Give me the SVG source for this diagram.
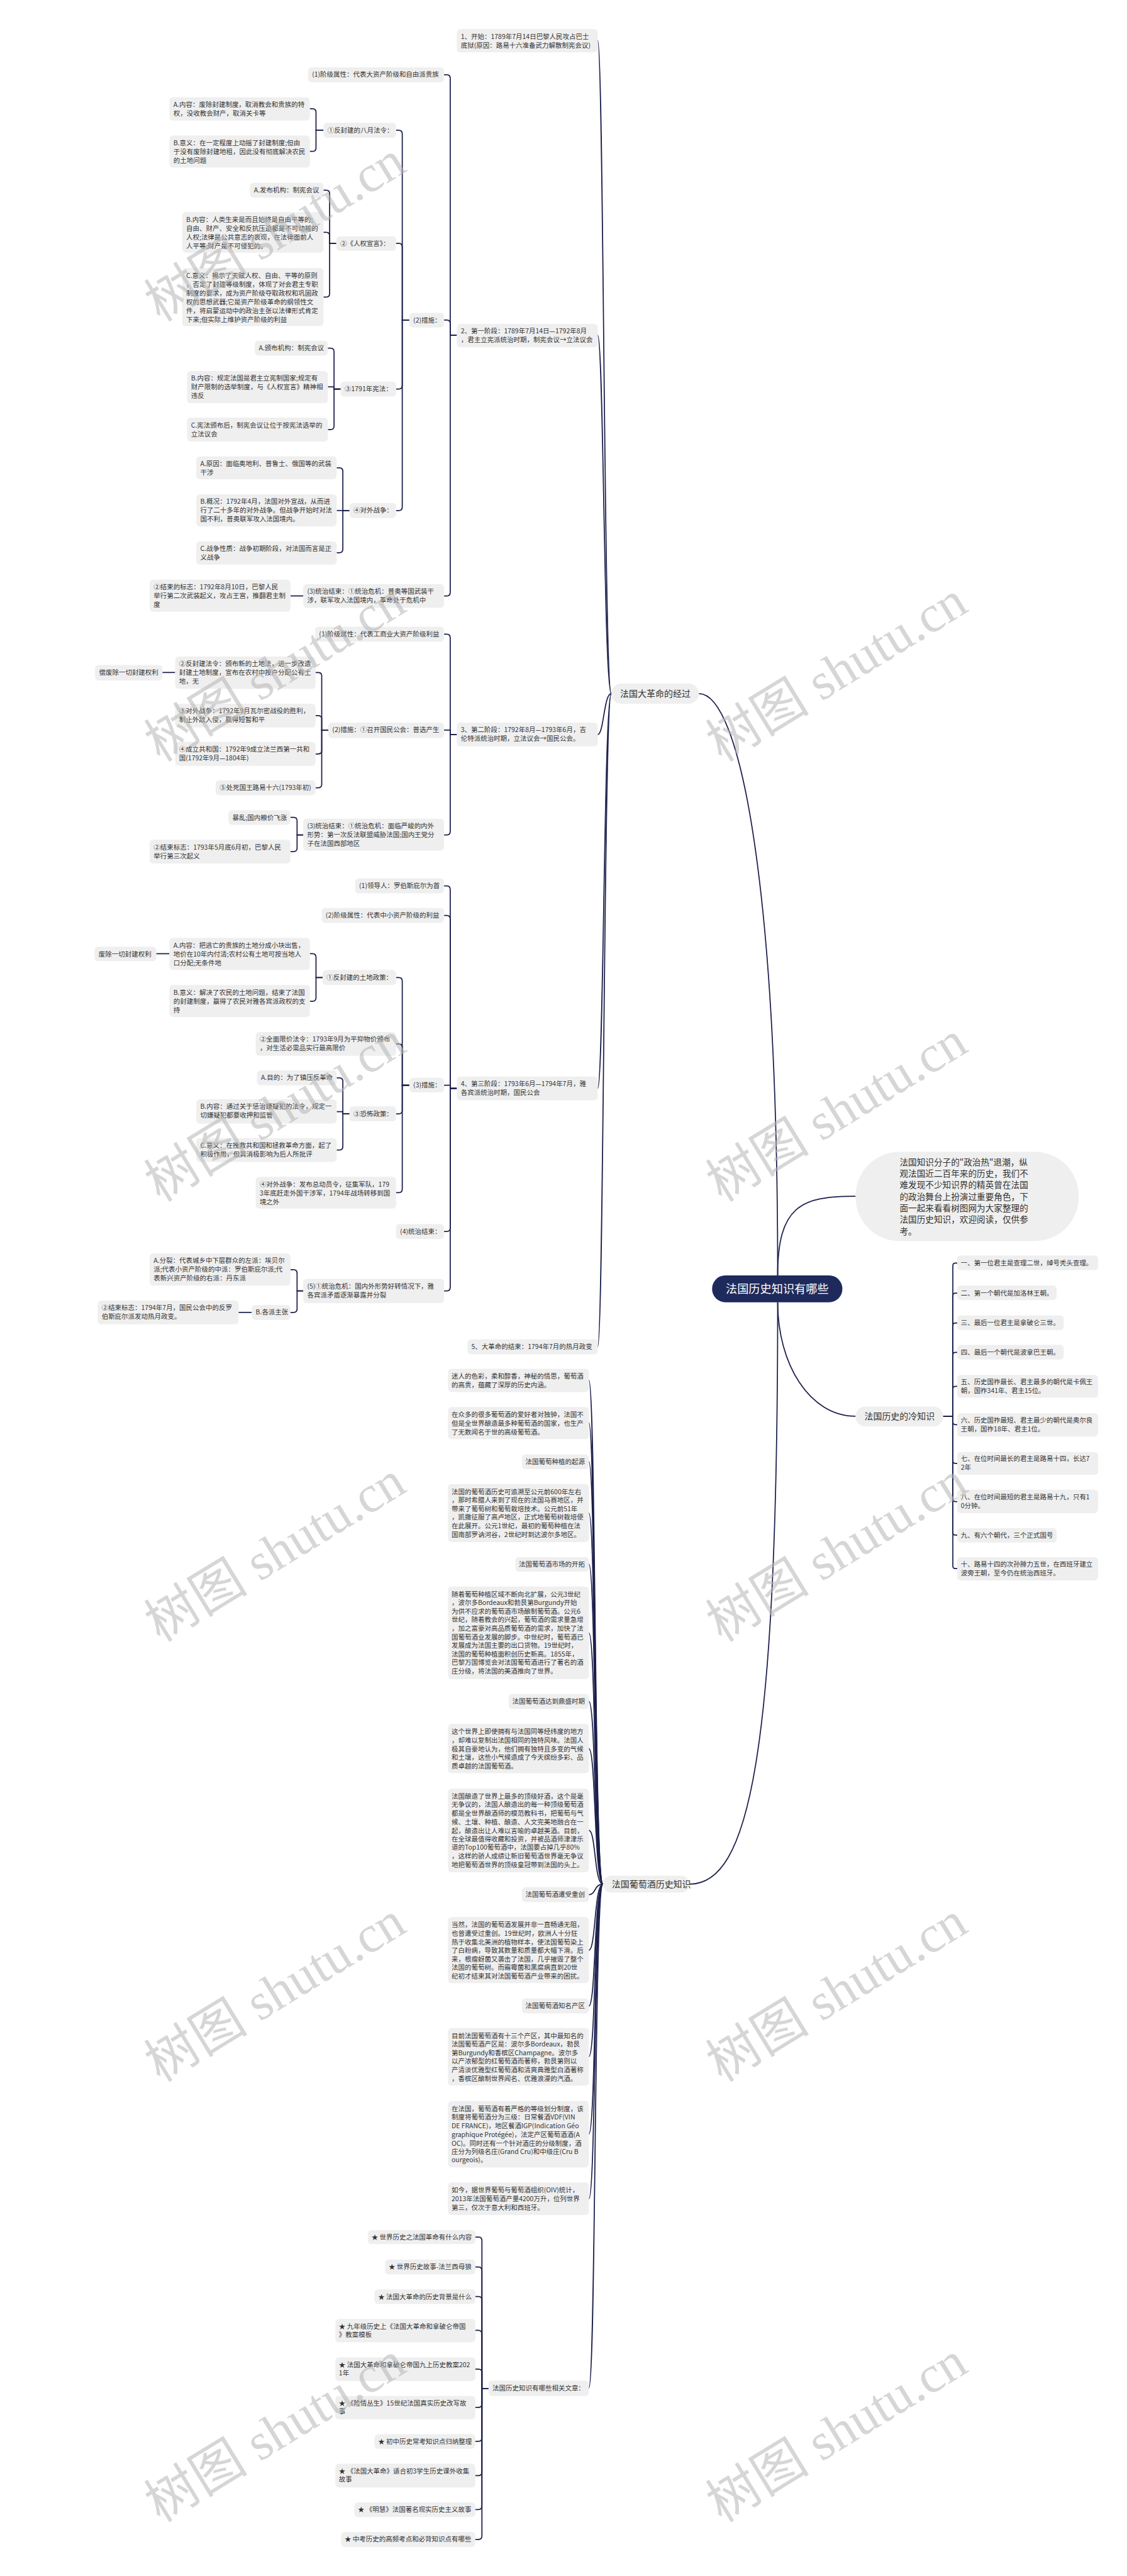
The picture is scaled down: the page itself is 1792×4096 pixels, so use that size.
<svg xmlns="http://www.w3.org/2000/svg" width="1792" height="4096" viewBox="0 0 1792 4096">
<style>
.n{fill:#efefef}
.t{font-family:"Noto Sans CJK SC","Noto Sans",sans-serif;font-size:15px;fill:#333}
.L{font-family:"Noto Sans CJK SC","Noto Sans",sans-serif;font-size:20px;fill:#333}
.c{fill:none;stroke:#1c1f4a;stroke-width:2.5}
.w{font-family:"Liberation Serif","Noto Sans CJK SC",serif;font-size:118px;fill:#b5b5b5;opacity:.55}
</style>
<rect width="1792" height="4096" fill="#fff"/>
<g transform="scale(0.6998)">
<g id="connectors">
<path class="c" d="M1767 2898 C1767 2000 1680 1576 1588 1576"/>
<path class="c" d="M1767 2898 C1767 2740 1820 2718 1944 2718"/>
<path class="c" d="M1767 2959 C1767 3100 1840 3218 1944 3218"/>
<path class="c" d="M1767 2959 C1767 4000 1700 4281 1567 4281"/>
<path class="c" d="M1389 1576 C1372 1576 1372 92 1358 92"/>
<path class="c" d="M1389 1576 C1372 1576 1372 762 1358 762"/>
<path class="c" d="M1389 1576 C1372 1576 1372 1669 1358 1669"/>
<path class="c" d="M1389 1576 C1372 1576 1372 2473 1358 2473"/>
<path class="c" d="M1389 1576 C1372 1576 1372 3060 1358 3060"/>
<path class="c" d="M1038 762 H1023 V178 Q1023 170 1015 170 H1009"/>
<path class="c" d="M1038 762 H1023 V735 Q1023 727 1015 727 H1009"/>
<path class="c" d="M1038 762 H1023 V1346 Q1023 1354 1015 1354 H1009"/>
<path class="c" d="M930 727 H914 V304 Q914 296 906 296 H900"/>
<path class="c" d="M930 727 H914 V561 Q914 553 906 553 H900"/>
<path class="c" d="M930 727 H914 V876 Q914 884 906 884 H900"/>
<path class="c" d="M930 727 H914 V1152 Q914 1160 906 1160 H900"/>
<path class="c" d="M735 296 H718 V255 Q718 247 710 247 H704"/>
<path class="c" d="M735 296 H718 V336 Q718 344 710 344 H704"/>
<path class="c" d="M764 553 H749 V440 Q749 432 741 432 H735"/>
<path class="c" d="M764 553 H749 V536 Q749 528 741 528 H735"/>
<path class="c" d="M764 553 H749 V667 Q749 675 741 675 H735"/>
<path class="c" d="M774 884 H759 V799 Q759 791 751 791 H745"/>
<path class="c" d="M774 884 H759 V879 H745"/>
<path class="c" d="M774 884 H759 V968 Q759 976 751 976 H745"/>
<path class="c" d="M794 1160 H779 V1071 Q779 1063 771 1063 H765"/>
<path class="c" d="M794 1160 H765"/>
<path class="c" d="M794 1160 H779 V1248 Q779 1256 771 1256 H765"/>
<path class="c" d="M689 1354 H660"/>
<path class="c" d="M1038 1669 H1023 V1449 Q1023 1441 1015 1441 H1009"/>
<path class="c" d="M1038 1669 H1023 V1659 H1009"/>
<path class="c" d="M1038 1669 H1023 V1889 Q1023 1897 1015 1897 H1009"/>
<path class="c" d="M746 1659 H731 V1536 Q731 1528 723 1528 H717"/>
<path class="c" d="M746 1659 H731 V1634 Q731 1626 723 1626 H717"/>
<path class="c" d="M746 1659 H731 V1705 Q731 1713 723 1713 H717"/>
<path class="c" d="M746 1659 H731 V1782 Q731 1790 723 1790 H717"/>
<path class="c" d="M398 1528 H369"/>
<path class="c" d="M689 1897 H675 V1865 Q675 1857 667 1857 H660"/>
<path class="c" d="M689 1897 H675 V1927 Q675 1935 667 1935 H660"/>
<path class="c" d="M1038 2473 H1023 V2021 Q1023 2013 1015 2013 H1009"/>
<path class="c" d="M1038 2473 H1023 V2088 Q1023 2080 1015 2080 H1009"/>
<path class="c" d="M1038 2473 H1023 V2466 H1009"/>
<path class="c" d="M1038 2473 H1023 V2790 Q1023 2798 1015 2798 H1009"/>
<path class="c" d="M1038 2473 H1023 V2925 Q1023 2933 1015 2933 H1009"/>
<path class="c" d="M930 2466 H914 V2229 Q914 2221 906 2221 H900"/>
<path class="c" d="M930 2466 H914 V2380 Q914 2372 906 2372 H900"/>
<path class="c" d="M930 2466 H914 V2523 Q914 2531 906 2531 H900"/>
<path class="c" d="M930 2466 H914 V2702 Q914 2710 906 2710 H900"/>
<path class="c" d="M733 2221 H718 V2175 Q718 2167 710 2167 H704"/>
<path class="c" d="M733 2221 H718 V2267 Q718 2275 710 2275 H704"/>
<path class="c" d="M385 2167 H355"/>
<path class="c" d="M794 2531 H779 V2457 Q779 2449 771 2449 H765"/>
<path class="c" d="M794 2531 H779 V2526 H765"/>
<path class="c" d="M794 2531 H779 V2605 Q779 2613 771 2613 H765"/>
<path class="c" d="M689 2933 H675 V2893 Q675 2885 667 2885 H660"/>
<path class="c" d="M689 2933 H675 V2974 Q675 2982 667 2982 H660"/>
<path class="c" d="M572 2982 H542"/>
<path class="c" d="M2143 3218 H2165 V2876 Q2165 2870 2171 2870 H2175"/>
<path class="c" d="M2143 3218 H2165 V2944 Q2165 2938 2171 2938 H2175"/>
<path class="c" d="M2143 3218 H2165 V3012 Q2165 3006 2171 3006 H2175"/>
<path class="c" d="M2143 3218 H2165 V3079 Q2165 3073 2171 3073 H2175"/>
<path class="c" d="M2143 3218 H2165 V3156 Q2165 3150 2171 3150 H2175"/>
<path class="c" d="M2143 3218 H2165 V3231 Q2165 3237 2171 3237 H2175"/>
<path class="c" d="M2143 3218 H2165 V3319 Q2165 3325 2171 3325 H2175"/>
<path class="c" d="M2143 3218 H2165 V3406 Q2165 3412 2171 3412 H2175"/>
<path class="c" d="M2143 3218 H2165 V3482 Q2165 3488 2171 3488 H2175"/>
<path class="c" d="M2143 3218 H2165 V3558 Q2165 3564 2171 3564 H2175"/>
<path class="c" d="M1370 4281 C1350 4281 1354 3136 1338 3136"/>
<path class="c" d="M1370 4281 C1350 4281 1354 3233 1338 3233"/>
<path class="c" d="M1370 4281 C1350 4281 1354 3321 1338 3321"/>
<path class="c" d="M1370 4281 C1350 4281 1354 3438 1338 3438"/>
<path class="c" d="M1370 4281 C1350 4281 1354 3554 1338 3554"/>
<path class="c" d="M1370 4281 C1350 4281 1354 3710 1338 3710"/>
<path class="c" d="M1370 4281 C1350 4281 1354 3866 1338 3866"/>
<path class="c" d="M1370 4281 C1350 4281 1354 3973 1338 3973"/>
<path class="c" d="M1370 4281 C1350 4281 1354 4159 1338 4159"/>
<path class="c" d="M1370 4281 C1350 4281 1354 4305 1338 4305"/>
<path class="c" d="M1370 4281 C1350 4281 1354 4431 1338 4431"/>
<path class="c" d="M1370 4281 C1350 4281 1354 4558 1338 4558"/>
<path class="c" d="M1370 4281 C1350 4281 1354 4673 1338 4673"/>
<path class="c" d="M1370 4281 C1350 4281 1354 4849 1338 4849"/>
<path class="c" d="M1370 4281 C1350 4281 1354 4996 1338 4996"/>
<path class="c" d="M1370 4281 C1350 4281 1354 5426 1338 5426"/>
<path class="c" d="M1110 5427 H1095 V5091 Q1095 5083 1087 5083 H1080"/>
<path class="c" d="M1110 5427 H1095 V5159 Q1095 5151 1087 5151 H1080"/>
<path class="c" d="M1110 5427 H1095 V5226 Q1095 5218 1087 5218 H1080"/>
<path class="c" d="M1110 5427 H1095 V5303 Q1095 5295 1087 5295 H1080"/>
<path class="c" d="M1110 5427 H1095 V5391 Q1095 5383 1087 5383 H1080"/>
<path class="c" d="M1110 5427 H1095 V5462 Q1095 5470 1087 5470 H1080"/>
<path class="c" d="M1110 5427 H1095 V5539 Q1095 5547 1087 5547 H1080"/>
<path class="c" d="M1110 5427 H1095 V5617 Q1095 5625 1087 5625 H1080"/>
<path class="c" d="M1110 5427 H1095 V5694 Q1095 5702 1087 5702 H1080"/>
<path class="c" d="M1110 5427 H1095 V5762 Q1095 5770 1087 5770 H1080"/>
</g>

<g id="root"><rect x="1618" y="2898" width="296" height="61" rx="30" fill="#1f2a5c"/><text x="1766" y="2938" text-anchor="middle" font-family="Noto Sans CJK SC, sans-serif" font-size="26" fill="#fff">法国历史知识有哪些</text></g>
<g id="intro"><rect class="n" x="1944" y="2617" width="507" height="203" rx="100"/><text class="t" style="font-size:19.5px"><tspan x="2044" y="2648">法国知识分子的"政治热"退潮，纵</tspan><tspan x="2044" y="2674">观法国近二百年来的历史，我们不</tspan><tspan x="2044" y="2700">难发现不少知识界的精英曾在法国</tspan><tspan x="2044" y="2726">的政治舞台上扮演过重要角色，下</tspan><tspan x="2044" y="2752">面一起来看看树图网为大家整理的</tspan><tspan x="2044" y="2778">法国历史知识，欢迎阅读，仅供参</tspan><tspan x="2044" y="2805">考。</tspan></text></g>

<g id="rev"><rect class="n" x="1389" y="1553" width="199" height="46" rx="23"/><text class="L" x="1409" y="1583">法国大革命的经过</text></g>
<g id="s1"><rect class="n" x="1038" y="66" width="320" height="53" rx="8"/><text class="t"><tspan x="1047" y="88">1、开始：1789年7月14日巴黎人民攻占巴士</tspan><tspan x="1047" y="108">底狱(原因：路易十六准备武力解散制宪会议)</tspan></text></g>
<g id="s2"><rect class="n" x="1038" y="736" width="320" height="53" rx="8"/><text class="t"><tspan x="1047" y="758">2、第一阶段：1789年7月14日—1792年8月</tspan><tspan x="1047" y="778">，君主立宪派统治时期，制宪会议→立法议会</tspan></text></g>
<g id="s3"><rect class="n" x="1038" y="1642" width="320" height="54" rx="8"/><text class="t"><tspan x="1047" y="1664">3、第二阶段：1792年8月—1793年6月，吉</tspan><tspan x="1047" y="1684">伦特派统治时期，立法议会→国民公会。</tspan></text></g>
<g id="s4"><rect class="n" x="1038" y="2446" width="320" height="54" rx="8"/><text class="t"><tspan x="1047" y="2468">4、第三阶段：1793年6月—1794年7月，雅</tspan><tspan x="1047" y="2488">各宾派统治时期，国民公会</tspan></text></g>
<g id="s5"><rect class="n" x="1062" y="3043" width="296" height="34" rx="8"/><text class="t" x="1071" y="3065">5、大革命的结束：1794年7月的热月政变</text></g>

<g id="a1"><rect class="n" x="700" y="153" width="309" height="34" rx="8"/><text class="t" x="709" y="175">(1)阶级属性：代表大资产阶级和自由派贵族</text></g>
<g id="a2"><rect class="n" x="930" y="711" width="79" height="33" rx="8"/><text class="t" x="939" y="733">(2)措施：</text></g>
<g id="a3"><rect class="n" x="689" y="1327" width="320" height="54" rx="8"/><text class="t"><tspan x="698" y="1349">(3)统治结束：①统治危机：普奥等国武装干</tspan><tspan x="698" y="1369">涉，联军攻入法国境内，革命处于危机中</tspan></text></g>
<g id="b1"><rect class="n" x="735" y="279" width="165" height="34" rx="8"/><text class="t" x="744" y="301">①反封建的八月法令：</text></g>
<g id="b2"><rect class="n" x="764" y="537" width="136" height="33" rx="8"/><text class="t" x="773" y="559">②《人权宣言》：</text></g>
<g id="b3"><rect class="n" x="774" y="867" width="126" height="34" rx="8"/><text class="t" x="783" y="889">③1791年宪法：</text></g>
<g id="b4"><rect class="n" x="794" y="1143" width="106" height="34" rx="8"/><text class="t" x="803" y="1165">④对外战争：</text></g>
<g id="b1a"><rect class="n" x="385" y="221" width="319" height="53" rx="8"/><text class="t"><tspan x="394" y="243">A.内容：废除封建制度，取消教会和贵族的特</tspan><tspan x="394" y="263">权，没收教会财产，取消关卡等</tspan></text></g>
<g id="b1b"><rect class="n" x="385" y="308" width="319" height="73" rx="8"/><text class="t"><tspan x="394" y="330">B.意义：在一定程度上动摇了封建制度;但由</tspan><tspan x="394" y="350">于没有废除封建地租，因此没有彻底解决农民</tspan><tspan x="394" y="370">的土地问题</tspan></text></g>
<g id="b2a"><rect class="n" x="568" y="415" width="167" height="34" rx="8"/><text class="t" x="577" y="437">A.发布机构：制宪会议</text></g>
<g id="b2b"><rect class="n" x="414" y="482" width="321" height="92" rx="8"/><text class="t"><tspan x="423" y="504">B.内容：人类生来是而且始终是自由平等的;</tspan><tspan x="423" y="524">自由、财产、安全和反抗压迫都是不可动摇的</tspan><tspan x="423" y="544">人权;法律是公共意志的表现，在法律面前人</tspan><tspan x="423" y="564">人平等;财产是不可侵犯的。</tspan></text></g>
<g id="b2c"><rect class="n" x="414" y="609" width="321" height="132" rx="8"/><text class="t"><tspan x="423" y="631">C.意义：揭示了天赋人权、自由、平等的原则</tspan><tspan x="423" y="651">，否定了封建等级制度，体现了对会君主专职</tspan><tspan x="423" y="671">制度的要求，成为资产阶级夺取政权和巩固政</tspan><tspan x="423" y="691">权的思想武器;它是资产阶级革命的纲领性文</tspan><tspan x="423" y="711">件，将启蒙运动中的政治主张以法律形式肯定</tspan><tspan x="423" y="731">下来;但实际上维护资产阶级的利益</tspan></text></g>
<g id="b3a"><rect class="n" x="579" y="774" width="166" height="34" rx="8"/><text class="t" x="588" y="796">A.颁布机构：制宪会议</text></g>
<g id="b3b"><rect class="n" x="425" y="843" width="320" height="73" rx="8"/><text class="t"><tspan x="434" y="865">B.内容：规定法国是君主立宪制国家;规定有</tspan><tspan x="434" y="885">财产限制的选举制度，与《人权宣言》精神相</tspan><tspan x="434" y="905">违反</tspan></text></g>
<g id="b3c"><rect class="n" x="425" y="949" width="320" height="54" rx="8"/><text class="t"><tspan x="434" y="971">C.宪法颁布后，制宪会议让位于按宪法选举的</tspan><tspan x="434" y="991">立法议会</tspan></text></g>
<g id="b4a"><rect class="n" x="446" y="1037" width="319" height="52" rx="8"/><text class="t"><tspan x="455" y="1059">A.原因：面临奥地利、普鲁士、俄国等的武装</tspan><tspan x="455" y="1079">干涉</tspan></text></g>
<g id="b4b"><rect class="n" x="446" y="1123" width="319" height="73" rx="8"/><text class="t"><tspan x="455" y="1145">B.概况：1792年4月，法国对外宣战，从而进</tspan><tspan x="455" y="1165">行了二十多年的对外战争。但战争开始时对法</tspan><tspan x="455" y="1185">国不利，普奥联军攻入法国境内。</tspan></text></g>
<g id="b4c"><rect class="n" x="446" y="1230" width="319" height="53" rx="8"/><text class="t"><tspan x="455" y="1252">C.战争性质：战争初期阶段，对法国而言是正</tspan><tspan x="455" y="1272">义战争</tspan></text></g>
<g id="a3a"><rect class="n" x="340" y="1317" width="320" height="73" rx="8"/><text class="t"><tspan x="349" y="1339">②结束的标志：1792年8月10日，巴黎人民</tspan><tspan x="349" y="1359">举行第二次武装起义，攻占王宫，推翻君主制</tspan><tspan x="349" y="1379">度</tspan></text></g>

<g id="c1"><rect class="n" x="716" y="1424" width="293" height="34" rx="8"/><text class="t" x="725" y="1446">(1)阶级属性：代表工商业大资产阶级利益</text></g>
<g id="c2"><rect class="n" x="746" y="1642" width="263" height="35" rx="8"/><text class="t" x="755" y="1664">(2)措施：①召开国民公会：普选产生</text></g>
<g id="c3"><rect class="n" x="689" y="1860" width="320" height="73" rx="8"/><text class="t"><tspan x="698" y="1882">(3)统治结束：①统治危机：面临严峻的内外</tspan><tspan x="698" y="1902">形势：第一次反法联盟威胁法国;国内王党分</tspan><tspan x="698" y="1922">子在法国西部地区</tspan></text></g>
<g id="c2a"><rect class="n" x="398" y="1492" width="319" height="73" rx="8"/><text class="t"><tspan x="407" y="1514">②反封建法令：颁布新的土地法，进一步改造</tspan><tspan x="407" y="1534">封建土地制度，宣布在农村中按户分配公有土</tspan><tspan x="407" y="1554">地，无</tspan></text></g>
<g id="c2a1"><rect class="n" x="216" y="1511" width="153" height="35" rx="8"/><text class="t" x="225" y="1533">偿废除一切封建权利</text></g>
<g id="c2b"><rect class="n" x="398" y="1599" width="319" height="54" rx="8"/><text class="t"><tspan x="407" y="1621">③对外战争：1792年9月瓦尔密战役的胜利，</tspan><tspan x="407" y="1641">制止外敌入侵，赢得短暂和平</tspan></text></g>
<g id="c2c"><rect class="n" x="398" y="1686" width="319" height="54" rx="8"/><text class="t"><tspan x="407" y="1708">④成立共和国：1792年9成立法兰西第一共和</tspan><tspan x="407" y="1728">国(1792年9月—1804年)</tspan></text></g>
<g id="c2d"><rect class="n" x="490" y="1773" width="227" height="34" rx="8"/><text class="t" x="499" y="1795">⑤处死国王路易十六(1793年初)</text></g>
<g id="c3a"><rect class="n" x="519" y="1841" width="141" height="33" rx="8"/><text class="t" x="528" y="1863">暴乱;国内粮价飞涨</text></g>
<g id="c3b"><rect class="n" x="340" y="1908" width="320" height="54" rx="8"/><text class="t"><tspan x="349" y="1930">②结束标志：1793年5月底6月初，巴黎人民</tspan><tspan x="349" y="1950">举行第三次起义</tspan></text></g>

<g id="d1"><rect class="n" x="807" y="1996" width="202" height="34" rx="8"/><text class="t" x="816" y="2018">(1)领导人：罗伯斯庇尔为首</text></g>
<g id="d2"><rect class="n" x="731" y="2063" width="278" height="34" rx="8"/><text class="t" x="740" y="2085">(2)阶级属性：代表中小资产阶级的利益</text></g>
<g id="d3"><rect class="n" x="930" y="2449" width="79" height="33" rx="8"/><text class="t" x="939" y="2471">(3)措施：</text></g>
<g id="d4"><rect class="n" x="900" y="2781" width="109" height="34" rx="8"/><text class="t" x="909" y="2803">(4)统治结束：</text></g>
<g id="d5"><rect class="n" x="689" y="2906" width="320" height="55" rx="8"/><text class="t"><tspan x="698" y="2928">(5)①统治危机：国内外形势好转情况下，雅</tspan><tspan x="698" y="2948">各宾派矛盾逐渐暴露并分裂</tspan></text></g>
<g id="d3a"><rect class="n" x="733" y="2204" width="167" height="34" rx="8"/><text class="t" x="742" y="2226">①反封建的土地政策：</text></g>
<g id="d3aA"><rect class="n" x="385" y="2131" width="319" height="73" rx="8"/><text class="t"><tspan x="394" y="2153">A.内容：把逃亡的贵族的土地分成小块出售，</tspan><tspan x="394" y="2173">地价在10年内付清;农村公有土地可按当地人</tspan><tspan x="394" y="2193">口分配;无条件地</tspan></text></g>
<g id="d3aA1"><rect class="n" x="215" y="2151" width="140" height="33" rx="8"/><text class="t" x="224" y="2173">废除一切封建权利</text></g>
<g id="d3aB"><rect class="n" x="385" y="2238" width="319" height="73" rx="8"/><text class="t"><tspan x="394" y="2260">B.意义：解决了农民的土地问题，结束了法国</tspan><tspan x="394" y="2280">的封建制度，赢得了农民对雅各宾派政权的支</tspan><tspan x="394" y="2300">持</tspan></text></g>
<g id="d3b"><rect class="n" x="581" y="2345" width="319" height="54" rx="8"/><text class="t"><tspan x="590" y="2367">②全面限价法令：1793年9月为平抑物价颁布</tspan><tspan x="590" y="2387">，对生活必需品实行最高限价</tspan></text></g>
<g id="d3c"><rect class="n" x="794" y="2514" width="106" height="34" rx="8"/><text class="t" x="803" y="2536">③恐怖政策：</text></g>
<g id="d3cA"><rect class="n" x="584" y="2432" width="181" height="34" rx="8"/><text class="t" x="593" y="2454">A.目的：为了镇压反革命</text></g>
<g id="d3cB"><rect class="n" x="446" y="2498" width="319" height="55" rx="8"/><text class="t"><tspan x="455" y="2520">B.内容：通过关于惩治嫌疑犯的法令，规定一</tspan><tspan x="455" y="2540">切嫌疑犯都要收押和监管</tspan></text></g>
<g id="d3cC"><rect class="n" x="446" y="2586" width="319" height="54" rx="8"/><text class="t"><tspan x="455" y="2608">C.意义：在挽救共和国和拯救革命方面，起了</tspan><tspan x="455" y="2628">积极作用，但其消极影响为后人所批评</tspan></text></g>
<g id="d3d"><rect class="n" x="581" y="2674" width="319" height="72" rx="8"/><text class="t"><tspan x="590" y="2696">④对外战争：发布总动员令，征集军队，179</tspan><tspan x="590" y="2716">3年底赶走外国干涉军，1794年战场转移到国</tspan><tspan x="590" y="2736">境之外</tspan></text></g>
<g id="d5a"><rect class="n" x="340" y="2848" width="320" height="73" rx="8"/><text class="t"><tspan x="349" y="2870">A.分裂：代表城乡中下层群众的左派：埃贝尔</tspan><tspan x="349" y="2890">派;代表小资产阶级的中派：罗伯斯庇尔派;代</tspan><tspan x="349" y="2910">表新兴资产阶级的右派：丹东派</tspan></text></g>
<g id="d5b"><rect class="n" x="572" y="2965" width="88" height="34" rx="8"/><text class="t" x="581" y="2987">B.各派主张</text></g>
<g id="d5b1"><rect class="n" x="222" y="2955" width="320" height="54" rx="8"/><text class="t"><tspan x="231" y="2977">②结束标志：1794年7月，国民公会中的反罗</tspan><tspan x="231" y="2997">伯斯庇尔派发动热月政变。</tspan></text></g>

<g id="cold"><rect class="n" x="1944" y="3196" width="199" height="45" rx="22"/><text class="L" x="1964" y="3225">法国历史的冷知识</text></g>
<g id="k1"><rect class="n" x="2175" y="2853" width="320" height="33" rx="8"/><text class="t" x="2183" y="2875">一、第一位君主是查理二世，绰号秃头查理。</text></g>
<g id="k2"><rect class="n" x="2175" y="2921" width="226" height="33" rx="8"/><text class="t" x="2183" y="2943">二、第一个朝代是加洛林王朝。</text></g>
<g id="k3"><rect class="n" x="2175" y="2989" width="242" height="33" rx="8"/><text class="t" x="2183" y="3011">三、最后一位君主是拿破仑三世。</text></g>
<g id="k4"><rect class="n" x="2175" y="3056" width="242" height="33" rx="8"/><text class="t" x="2183" y="3078">四、最后一个朝代是波拿巴王朝。</text></g>
<g id="k5"><rect class="n" x="2175" y="3124" width="320" height="52" rx="8"/><text class="t"><tspan x="2183" y="3145">五、历史国祚最长、君主最多的朝代是卡佩王</tspan><tspan x="2183" y="3165">朝，国祚341年、君主15位。</tspan></text></g>
<g id="k6"><rect class="n" x="2175" y="3211" width="320" height="53" rx="8"/><text class="t"><tspan x="2183" y="3233">六、历史国祚最短、君主最少的朝代是奥尔良</tspan><tspan x="2183" y="3253">王朝，国祚18年、君主1位。</tspan></text></g>
<g id="k7"><rect class="n" x="2175" y="3299" width="320" height="52" rx="8"/><text class="t"><tspan x="2183" y="3320">七、在位时间最长的君主是路易十四，长达7</tspan><tspan x="2183" y="3340">2年</tspan></text></g>
<g id="k8"><rect class="n" x="2175" y="3385" width="320" height="53" rx="8"/><text class="t"><tspan x="2183" y="3407">八、在位时间最短的君主是路易十九，只有1</tspan><tspan x="2183" y="3427">0分钟。</tspan></text></g>
<g id="k9"><rect class="n" x="2175" y="3472" width="226" height="33" rx="8"/><text class="t" x="2183" y="3494">九、有六个朝代，三个正式国号</text></g>
<g id="k10"><rect class="n" x="2175" y="3538" width="320" height="53" rx="8"/><text class="t"><tspan x="2183" y="3560">十、路易十四的次孙腓力五世，在西班牙建立</tspan><tspan x="2183" y="3580">波旁王朝，至今仍在统治西班牙。</tspan></text></g>

<g id="wine"><rect class="n" x="1370" y="4262" width="197" height="38" rx="19"/><text class="L" x="1390" y="4288">法国葡萄酒历史知识</text></g>
<g id="w1"><rect class="n" x="1018" y="3110" width="320" height="53" rx="8"/><text class="t"><tspan x="1026" y="3133">迷人的色彩，柔和醇香，神秘的情思，葡萄酒</tspan><tspan x="1026" y="3152">的高贵，蕴藏了深厚的历史内涵。</tspan></text></g>
<g id="w2"><rect class="n" x="1018" y="3197" width="320" height="73" rx="8"/><text class="t"><tspan x="1026" y="3220">在众多的很多葡萄酒的爱好者对独钟，法国不</tspan><tspan x="1026" y="3239">但是全世界酿造最多种葡萄酒的国家，也生产</tspan><tspan x="1026" y="3259">了无数闻名于世的高级葡萄酒。</tspan></text></g>
<g id="w3"><rect class="n" x="1186" y="3305" width="152" height="33" rx="8"/><text class="t" x="1194" y="3327">法国葡萄种植的起源</text></g>
<g id="w4"><rect class="n" x="1018" y="3372" width="320" height="132" rx="8"/><text class="t"><tspan x="1026" y="3395">法国的葡萄酒历史可追溯至公元前600年左右</tspan><tspan x="1026" y="3414">，那时希腊人来到了现在的法国马赛地区，并</tspan><tspan x="1026" y="3434">带来了葡萄树和葡萄栽培技术。公元前51年</tspan><tspan x="1026" y="3453">，凯撒征服了高卢地区，正式地葡萄树栽培便</tspan><tspan x="1026" y="3473">在此展开。公元1世纪，最初的葡萄种植在法</tspan><tspan x="1026" y="3492">国南部罗讷河谷，2世纪时到达波尔多地区。</tspan></text></g>
<g id="w5"><rect class="n" x="1171" y="3538" width="167" height="33" rx="8"/><text class="t" x="1179" y="3560">法国葡萄酒市场的开拓</text></g>
<g id="w6"><rect class="n" x="1018" y="3605" width="320" height="210" rx="8"/><text class="t"><tspan x="1026" y="3628">随着葡萄种植区域不断向北扩展，公元3世纪</tspan><tspan x="1026" y="3647">，波尔多Bordeaux和勃艮第Burgundy开始</tspan><tspan x="1026" y="3667">为供不应求的葡萄酒市场酿制葡萄酒。公元6</tspan><tspan x="1026" y="3686">世纪，随着教会的兴起，葡萄酒的需求量急增</tspan><tspan x="1026" y="3706">，加之富豪对高品质葡萄酒的需求，加快了法</tspan><tspan x="1026" y="3725">国葡萄酒业发展的脚步。中世纪时，葡萄酒已</tspan><tspan x="1026" y="3744">发展成为法国主要的出口货物。19世纪时，</tspan><tspan x="1026" y="3764">法国的葡萄种植面积创历史新高。1855年，</tspan><tspan x="1026" y="3783">巴黎万国博览会对法国葡萄酒进行了著名的酒</tspan><tspan x="1026" y="3803">庄分级，将法国的美酒推向了世界。</tspan></text></g>
<g id="w7"><rect class="n" x="1156" y="3849" width="182" height="34" rx="8"/><text class="t" x="1164" y="3871">法国葡萄酒达到鼎盛时期</text></g>
<g id="w8"><rect class="n" x="1018" y="3917" width="320" height="112" rx="8"/><text class="t"><tspan x="1026" y="3940">这个世界上即使拥有与法国同等经纬度的地方</tspan><tspan x="1026" y="3959">，却难以复制出法国相同的独特风味。法国人</tspan><tspan x="1026" y="3979">极其自豪地认为，他们拥有独特且多变的气候</tspan><tspan x="1026" y="3998">和土壤，这些小气候造成了今天缤纷多彩、品</tspan><tspan x="1026" y="4018">质卓越的法国葡萄酒。</tspan></text></g>
<g id="w9"><rect class="n" x="1018" y="4064" width="320" height="190" rx="8"/><text class="t"><tspan x="1026" y="4087">法国酿造了世界上最多的顶级好酒，这个是毫</tspan><tspan x="1026" y="4106">无争议的，法国人酿造出的每一种顶级葡萄酒</tspan><tspan x="1026" y="4126">都是全世界酿酒师的模范教科书，把葡萄与气</tspan><tspan x="1026" y="4145">候、土壤、种植、酿造、人文完美地融合在一</tspan><tspan x="1026" y="4165">起，酿造出让人难以言喻的卓越美酒。目前，</tspan><tspan x="1026" y="4184">在全球最值得收藏和投资，并被品酒师津津乐</tspan><tspan x="1026" y="4203">道的Top100葡萄酒中，法国要占掉几乎80%</tspan><tspan x="1026" y="4223">，这样的骄人成绩让新旧葡萄酒世界毫无争议</tspan><tspan x="1026" y="4242">地把葡萄酒世界的顶级皇冠带到法国的头上。</tspan></text></g>
<g id="w10"><rect class="n" x="1186" y="4288" width="152" height="34" rx="8"/><text class="t" x="1194" y="4310">法国葡萄酒遭受重创</text></g>
<g id="w11"><rect class="n" x="1018" y="4356" width="320" height="150" rx="8"/><text class="t"><tspan x="1026" y="4379">当然，法国的葡萄酒发展并非一直畅通无阻，</tspan><tspan x="1026" y="4398">也曾遭受过重创。19世纪时，欧洲人十分狂</tspan><tspan x="1026" y="4418">热于收集北美洲的植物样本，使法国葡萄染上</tspan><tspan x="1026" y="4437">了白粉病，导致其数量和质量都大幅下滑。后</tspan><tspan x="1026" y="4457">来，根瘤蚜菌又袭击了法国，几乎摧毁了整个</tspan><tspan x="1026" y="4476">法国的葡萄树。而霜霉菌和黑腐病直到20世</tspan><tspan x="1026" y="4495">纪初才结束其对法国葡萄酒产业带来的困扰。</tspan></text></g>
<g id="w12"><rect class="n" x="1186" y="4541" width="152" height="34" rx="8"/><text class="t" x="1194" y="4563">法国葡萄酒知名产区</text></g>
<g id="w13"><rect class="n" x="1018" y="4608" width="320" height="131" rx="8"/><text class="t"><tspan x="1026" y="4631">目前法国葡萄酒有十三个产区，其中最知名的</tspan><tspan x="1026" y="4650">法国葡萄酒产区是：波尔多Bordeaux，勃艮</tspan><tspan x="1026" y="4670">第Burgundy和香槟区Champagne。波尔多</tspan><tspan x="1026" y="4689">以产浓郁型的红葡萄酒而著称，勃艮第则以</tspan><tspan x="1026" y="4709">产清淡优雅型红葡萄酒和清爽典雅型白酒著称</tspan><tspan x="1026" y="4728">，香槟区酿制世界闻名、优雅浪漫的汽酒。</tspan></text></g>
<g id="w14"><rect class="n" x="1018" y="4774" width="320" height="151" rx="8"/><text class="t"><tspan x="1026" y="4797">在法国，葡萄酒有着严格的等级划分制度，该</tspan><tspan x="1026" y="4816">制度将葡萄酒分为三级：日常餐酒VDF(VIN</tspan><tspan x="1026" y="4836">DE FRANCE)，地区餐酒IGP(Indication Géo</tspan><tspan x="1026" y="4855">graphique Protégée)，法定产区葡萄酒酒(A</tspan><tspan x="1026" y="4875">OC)。同时还有一个针对酒庄的分级制度，酒</tspan><tspan x="1026" y="4894">庄分为列级名庄(Grand Cru)和中级庄(Cru B</tspan><tspan x="1026" y="4913">ourgeois)。</tspan></text></g>
<g id="w15"><rect class="n" x="1018" y="4959" width="320" height="74" rx="8"/><text class="t"><tspan x="1026" y="4982">如今，据世界葡萄与葡萄酒组织(OIV)统计，</tspan><tspan x="1026" y="5001">2013年法国葡萄酒产量4200万升，位列世界</tspan><tspan x="1026" y="5021">第三，仅次于意大利和西班牙。</tspan></text></g>
<g id="w16"><rect class="n" x="1110" y="5409" width="228" height="35" rx="8"/><text class="t" x="1119" y="5432">法国历史知识有哪些相关文章：</text></g>
<g id="r1"><rect class="n" x="836" y="5067" width="244" height="32" rx="8"/><text class="t" x="844" y="5089">★ 世界历史之法国革命有什么内容</text></g>
<g id="r2"><rect class="n" x="875" y="5134" width="205" height="34" rx="8"/><text class="t" x="883" y="5156">★ 世界历史故事-法兰西母狼</text></g>
<g id="r3"><rect class="n" x="851" y="5202" width="229" height="33" rx="8"/><text class="t" x="859" y="5224">★ 法国大革命的历史背景是什么</text></g>
<g id="r4"><rect class="n" x="762" y="5269" width="318" height="53" rx="8"/><text class="t"><tspan x="770" y="5291">★ 九年级历史上《法国大革命和拿破仑帝国</tspan><tspan x="770" y="5310">》教案模板</tspan></text></g>
<g id="r5"><rect class="n" x="762" y="5356" width="318" height="54" rx="8"/><text class="t"><tspan x="770" y="5378">★ 法国大革命和拿破仑帝国九上历史教案202</tspan><tspan x="770" y="5397">1年</tspan></text></g>
<g id="r6"><rect class="n" x="762" y="5444" width="318" height="53" rx="8"/><text class="t"><tspan x="770" y="5466">★ 《险情丛生》15世纪法国真实历史改写故</tspan><tspan x="770" y="5485">事</tspan></text></g>
<g id="r7"><rect class="n" x="851" y="5531" width="229" height="33" rx="8"/><text class="t" x="859" y="5553">★ 初中历史常考知识点归纳整理</text></g>
<g id="r8"><rect class="n" x="762" y="5598" width="318" height="54" rx="8"/><text class="t"><tspan x="770" y="5620">★ 《法国大革命》适合初3学生历史课外收集</tspan><tspan x="770" y="5639">故事</tspan></text></g>
<g id="r9"><rect class="n" x="805" y="5686" width="275" height="33" rx="8"/><text class="t" x="813" y="5708">★ 《明慧》法国著名现实历史主义故事</text></g>
<g id="r10"><rect class="n" x="775" y="5753" width="305" height="34" rx="8"/><text class="t" x="783" y="5775">★ 中考历史的高频考点和必背知识点有哪些</text></g>

<g id="watermarks">
<text class="w" text-anchor="middle" transform="translate(646 560) rotate(-31.5)">树图 shutu.cn</text>
<text class="w" text-anchor="middle" transform="translate(646 1560) rotate(-31.5)">树图 shutu.cn</text>
<text class="w" text-anchor="middle" transform="translate(1922 1560) rotate(-31.5)">树图 shutu.cn</text>
<text class="w" text-anchor="middle" transform="translate(646 2560) rotate(-31.5)">树图 shutu.cn</text>
<text class="w" text-anchor="middle" transform="translate(1922 2560) rotate(-31.5)">树图 shutu.cn</text>
<text class="w" text-anchor="middle" transform="translate(646 3560) rotate(-31.5)">树图 shutu.cn</text>
<text class="w" text-anchor="middle" transform="translate(1922 3560) rotate(-31.5)">树图 shutu.cn</text>
<text class="w" text-anchor="middle" transform="translate(646 4560) rotate(-31.5)">树图 shutu.cn</text>
<text class="w" text-anchor="middle" transform="translate(1922 4560) rotate(-31.5)">树图 shutu.cn</text>
<text class="w" text-anchor="middle" transform="translate(646 5560) rotate(-31.5)">树图 shutu.cn</text>
<text class="w" text-anchor="middle" transform="translate(1922 5560) rotate(-31.5)">树图 shutu.cn</text>
</g>
</g>
</svg>
